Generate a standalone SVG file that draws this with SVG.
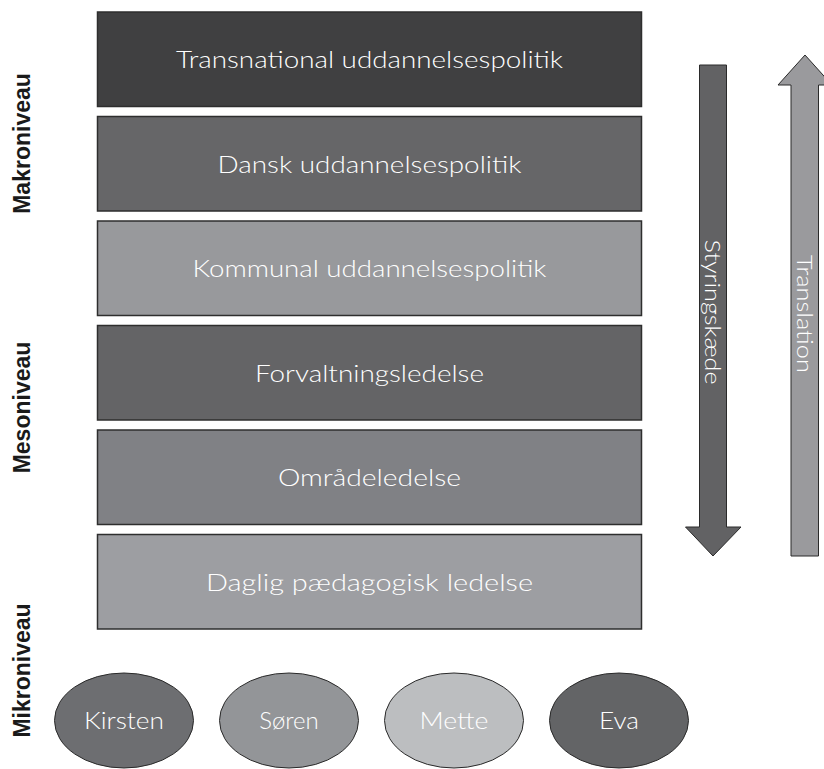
<svg xmlns="http://www.w3.org/2000/svg" width="824" height="769" viewBox="0 0 824 769">
<style>
.box{stroke:#2e2e2e;stroke-width:1.5}
.bt{font-family:Lato,"Open Sans","Liberation Sans",sans-serif;font-weight:300;font-size:24px;fill:#ffffff;text-anchor:middle}
.ell{stroke:#2a2a2a;stroke-width:1}
.lvl{font-family:"Liberation Sans",Arial,sans-serif;font-weight:bold;font-size:23px;fill:#1a1a1a;text-anchor:middle}
.at{font-family:Lato,"Open Sans","Liberation Sans",sans-serif;font-weight:300;font-size:22px;fill:#ffffff;text-anchor:middle}
</style>
<rect width="824" height="769" fill="#ffffff"/>
<g id="labels">
<text class="lvl" transform="translate(29.5,143.5) rotate(-90)">Makroniveau</text>
<text class="lvl" transform="translate(29.5,407.5) rotate(-90)">Mesoniveau</text>
<text class="lvl" transform="translate(29.5,670.5) rotate(-90)">Mikroniveau</text>
</g>
<g id="box1"><rect class="box" x="97.5" y="12" width="544" height="94.5" fill="#404041"/><text class="bt" x="369.5" y="68" textLength="387" lengthAdjust="spacingAndGlyphs">Transnational uddannelsespolitik</text></g>
<g id="box2"><rect class="box" x="97.5" y="116.5" width="544" height="94.5" fill="#666668"/><text class="bt" x="369.5" y="172.5" textLength="304" lengthAdjust="spacingAndGlyphs">Dansk uddannelsespolitik</text></g>
<g id="box3"><rect class="box" x="97.5" y="221" width="544" height="94.5" fill="#98999c"/><text class="bt" x="369.5" y="277" textLength="354" lengthAdjust="spacingAndGlyphs">Kommunal uddannelsespolitik</text></g>
<g id="box4"><rect class="box" x="97.5" y="325.5" width="544" height="94.5" fill="#646466"/><text class="bt" x="369.5" y="381.5" textLength="229" lengthAdjust="spacingAndGlyphs">Forvaltningsledelse</text></g>
<g id="box5"><rect class="box" x="97.5" y="430" width="544" height="94.5" fill="#808185"/><text class="bt" x="369.5" y="486" textLength="183" lengthAdjust="spacingAndGlyphs">Områdeledelse</text></g>
<g id="box6"><rect class="box" x="97.5" y="534.5" width="544" height="94.5" fill="#9d9ea2"/><text class="bt" x="369.5" y="590.5" textLength="327" lengthAdjust="spacingAndGlyphs">Daglig pædagogisk ledelse</text></g>
<g id="kirsten"><ellipse class="ell" cx="124" cy="720.5" rx="69.5" ry="47.5" fill="#6d6e71"/><text class="bt" x="124" y="728.5" textLength="80" lengthAdjust="spacingAndGlyphs">Kirsten</text></g>
<g id="soren"><ellipse class="ell" cx="289" cy="720.5" rx="69.5" ry="47.5" fill="#939598"/><text class="bt" x="289" y="728.5">Søren</text></g>
<g id="mette"><ellipse class="ell" cx="454" cy="720.5" rx="69.5" ry="47.5" fill="#bcbec0"/><text class="bt" x="454" y="728.5" textLength="69" lengthAdjust="spacingAndGlyphs">Mette</text></g>
<g id="eva"><ellipse class="ell" cx="619" cy="720.5" rx="69.5" ry="47.5" fill="#636466"/><text class="bt" x="619" y="728.5" textLength="40" lengthAdjust="spacingAndGlyphs">Eva</text></g>
<g id="connectors">
<g id="styringskaede"><polygon points="699.5,65 726.5,65 726.5,527 741,527 713,556 685.5,527 699.5,527" fill="#626264" stroke="#2a2a2a" stroke-width="1"/><text class="at" transform="translate(705,312) rotate(90)" textLength="145" lengthAdjust="spacingAndGlyphs">Styringskæde</text></g>
<g id="translation"><polygon points="791,556 818.5,556 818.5,85 832,85 805,55 778,85 791,85" fill="#9a9a9d" stroke="#2a2a2a" stroke-width="1"/><text class="at" transform="translate(797,314) rotate(90)" textLength="118" lengthAdjust="spacingAndGlyphs">Translation</text></g>
</g>
</svg>
